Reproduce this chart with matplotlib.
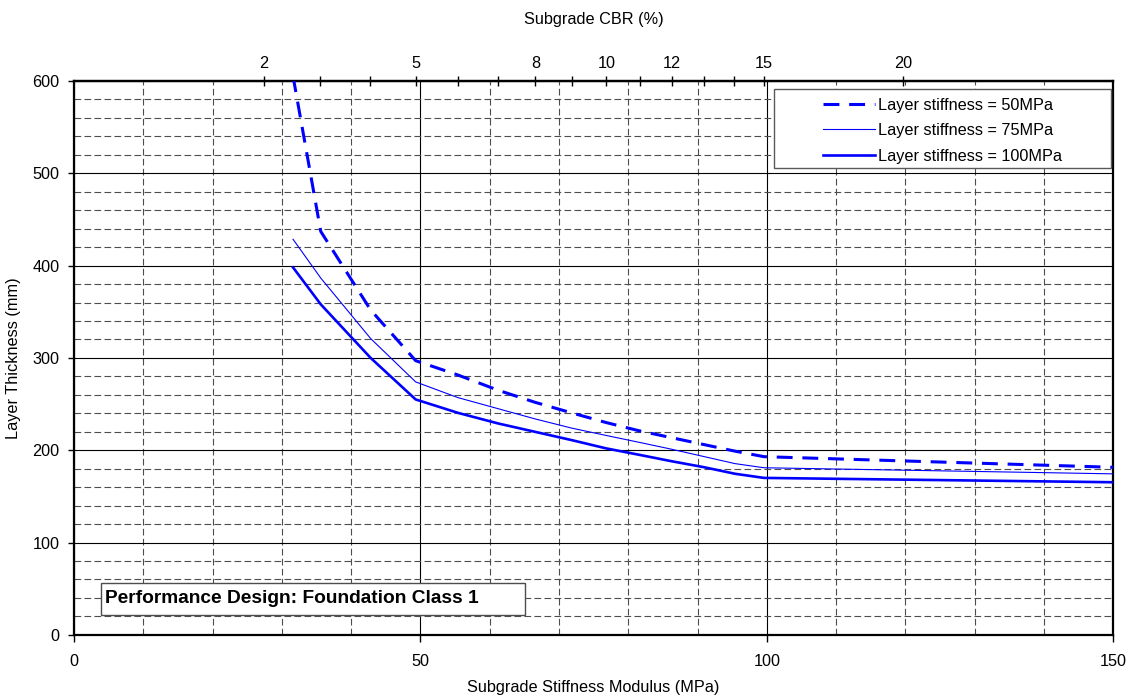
import matplotlib
matplotlib.use("Agg")
import matplotlib.pyplot as plt
from matplotlib.ticker import MultipleLocator
from matplotlib.patches import Rectangle
import numpy as np

plt.rcParams['font.family'] = ['Liberation Sans', 'DejaVu Sans']
plt.rcParams['font.size'] = 11.7

# Subgrade stiffness (MPa) at the design points (CBR 2.5, 3, 4 ... 15 and the end point)
stiffness = [31.6, 35.6, 42.8, 49.3, 55.4, 61.2, 66.5, 71.8, 76.8, 81.6, 86.3, 91.0, 95.4, 99.6, 150]

# layer thickness (mm) for each layer stiffness
thick_50 = [605, 437, 352, 297, 281.5, 265, 252, 240.5, 230, 221, 213.5, 206, 199, 193, 181.5]
thick_75 = [428.5, 386.5, 321, 274, 257, 245, 234, 224, 216, 208.5, 201, 193, 185.5, 181, 174.4]
thick_100 = [398, 358, 300, 255, 240.5, 229, 220, 211, 202, 195, 188, 181.5, 174.5, 170, 165.3]

series_labels = ["Layer stiffness = 50MPa", "Layer stiffness = 75MPa", "Layer stiffness = 100MPa"]

# top axis: CBR values
cbr_ticks = [2, 3, 4, 5, 6, 7, 8, 9, 10, 11, 12, 13, 14, 15, 20]
cbr_labelled = [2, 5, 8, 10, 12, 15, 20]


def e_to_cbr(e):
    e = np.maximum(np.asarray(e, dtype=float), 1e-6)
    return (e / 17.6) ** (1 / 0.64)


def cbr_to_e(c):
    c = np.maximum(np.asarray(c, dtype=float), 0)
    return 17.6 * c ** 0.64


fig = plt.figure(figsize=(11.33, 6.97), dpi=100)
ax = fig.add_axes([0.0655, 0.0892, 0.9169, 0.7946])

blue = '#0000FF'
l1, = ax.plot(stiffness, thick_50, color=blue, lw=2.2, ls=(0, (5.2, 3.2)), zorder=3)
l2, = ax.plot(stiffness, thick_75, color=blue, lw=0.8, zorder=3)
l3, = ax.plot(stiffness, thick_100, color=blue, lw=1.9, zorder=3)

ax.set_xlim(0, 150)
ax.set_ylim(0, 600)
ax.set_xticks([0, 50, 100, 150])
ax.set_yticks(range(0, 601, 100))
ax.xaxis.set_minor_locator(MultipleLocator(10))
ax.yaxis.set_minor_locator(MultipleLocator(20))
ax.tick_params(which='minor', length=0)
ax.tick_params(axis='x', which='major', direction='out', length=5, width=1, pad=9)
ax.tick_params(axis='y', which='major', direction='out', length=4, width=1, pad=6.5)

ax.set_axisbelow(True)
ax.grid(which='major', color='black', lw=0.8, ls='-')
ax.grid(which='minor', color='0.3', lw=0.8, ls=(0, (6, 3)))

for s in ax.spines.values():
    s.set_linewidth(1.6)
    s.set_color('black')

ax.set_xlabel("Subgrade Stiffness Modulus (MPa)", labelpad=8)
ax.set_ylabel("Layer Thickness (mm)", labelpad=8)

# secondary top axis in CBR
top = ax.secondary_xaxis('top', functions=(e_to_cbr, cbr_to_e))
top.set_xticks(cbr_ticks, labels=[str(c) if c in cbr_labelled else '' for c in cbr_ticks])
top.tick_params(direction='inout', length=7, width=1, pad=4)
top.spines['top'].set_linewidth(1.6)
top.set_xlabel("Subgrade CBR (%)", labelpad=23)

# legend inside a fixed frame
frame = Rectangle((0.6737, 0.8424), 0.3244, 0.1432, transform=ax.transAxes,
                  fc='white', ec='0.35', lw=1, zorder=4)
ax.add_patch(frame)
leg = ax.legend([l1, l2, l3], series_labels, loc='center', bbox_to_anchor=(0.8359, 0.9104),
                frameon=False, fontsize=11.7, handlelength=3.2, handletextpad=0.2,
                labelspacing=0.65, borderpad=0)
leg.set_zorder(5)

# caption box
box = Rectangle((0.0255, 0.0365), 0.4085, 0.0567, transform=ax.transAxes,
                fc='white', ec='0.3', lw=1, zorder=4)
ax.add_patch(box)
ax.text(0.0296, 0.0648, "Performance Design: Foundation Class 1", transform=ax.transAxes,
        fontsize=13.8, fontweight='bold', va='center', ha='left', zorder=5)

fig.savefig("out.png", dpi=100)
